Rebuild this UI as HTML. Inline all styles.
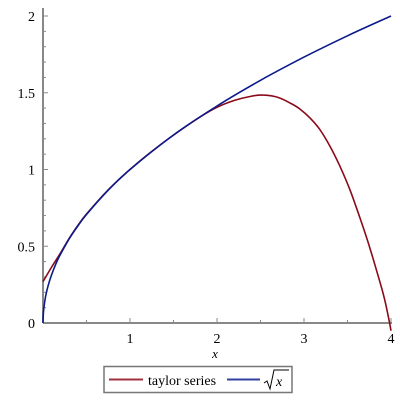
<!DOCTYPE html>
<html><head><meta charset="utf-8"><style>
body{margin:0;background:#fff}
svg text{font-family:"Liberation Serif",serif}
</style></head><body>
<svg id="c" width="400" height="400" xmlns="http://www.w3.org/2000/svg">
<g id="axes"></g>
<g id="series"></g>
<g>
<rect x="104" y="366.5" width="188" height="26" fill="#fff" stroke="#777" stroke-width="1.5"/>
<line x1="109" y1="379.5" x2="143" y2="379.5" stroke="#a03040" stroke-width="2"/>
<text x="148" y="385" font-size="14">taylor series</text>
<line x1="227" y1="379.5" x2="260" y2="379.5" stroke="#3040a0" stroke-width="2"/>
<path d="M264,383 L267,381 L270,389 L274,370 L289,370" fill="none" stroke="#000" stroke-width="1"/>
<text x="276" y="386" font-size="14" font-style="italic">x</text>
</g>
</svg>
<script>
const taylorX=[0,0.1,0.2,0.3,0.4,0.5,0.75,1,1.25,1.5,1.8,2,2.2,2.4,2.53,2.7,2.85,2.95,3.07,3.18,3.3,3.41,3.53,3.64,3.74,3.84,3.92,3.97,4];
const taylorY=[0.27,0.365,0.455,0.55,0.635,0.71,0.868,1,1.118,1.224,1.34,1.405,1.45,1.478,1.485,1.47,1.43,1.395,1.335,1.262,1.15,1.025,0.865,0.69,0.52,0.33,0.17,0.04,-0.05];
const sqrtX=[0,0.002,0.01,0.03,0.06,0.1,0.15,0.2,0.3,0.4,0.5,0.75,1,1.5,2,2.5,3,3.5,4];
const sqrtY=[0,0.045,0.1,0.173,0.245,0.316,0.387,0.447,0.548,0.632,0.707,0.866,1,1.225,1.414,1.581,1.732,1.871,2];
const xTicks=[1,2,3,4];
const yTicks=[0,0.5,1,1.5,2];
const yTickLabels=["0","0.5","1","1.5","2"];
const X=v=>43+v*87, Y=v=>323-v*153.5;
const NS="http://www.w3.org/2000/svg";
const ax=document.getElementById('axes'), se=document.getElementById('series');
function mk(t,a,p){const e=document.createElementNS(NS,t);for(const k in a)e.setAttribute(k,a[k]);p.appendChild(e);return e;}
let e=mk('line',{x1:43,y1:Y(0),x2:X(4)+1,y2:Y(0),stroke:'#888','stroke-width':2},ax);


e=mk('line',{x1:43,y1:Y(0),x2:43,y2:8,stroke:'#888','stroke-width':2},ax);


for(let i=1;i<=8;i++){const v=i*0.5;e=mk('line',{x1:X(v),y1:Y(0),x2:X(v),y2:Y(0)-(i%2?3:5),stroke:'#888'},ax);

}
for(let i=1;i<=20;i++){const v=i*0.1;e=mk('line',{x1:43,y1:Y(v),x2:43+(i%5?3:5),y2:Y(v),stroke:'#888'},ax);

}
xTicks.forEach(v=>{e=mk('text',{x:X(v),y:343,'font-size':14,'text-anchor':'middle'},ax);e.textContent=String(v);

});
yTicks.forEach((v,i)=>{e=mk('text',{x:35,y:Y(v)+5,'font-size':14,'text-anchor':'end'},ax);e.textContent=yTickLabels[i];

});
e=mk('text',{x:215,y:358,'font-size':13,'font-style':'italic','text-anchor':'middle'},ax);e.textContent='x';


function line(xs,ys,c,n){
  const P=xs.map((x,i)=>[X(x),Y(ys[i])]);
  let d='M'+P[0][0].toFixed(1)+','+P[0][1].toFixed(1);
  for(let i=0;i<P.length-1;i++){
    const p0=P[Math.max(0,i-1)],p1=P[i],p2=P[i+1],p3=P[Math.min(P.length-1,i+2)];
    const c1=[p1[0]+(p2[0]-p0[0])/6,p1[1]+(p2[1]-p0[1])/6];
    const c2=[p2[0]-(p3[0]-p1[0])/6,p2[1]-(p3[1]-p1[1])/6];
    d+='C'+c1[0].toFixed(1)+','+c1[1].toFixed(1)+' '+c2[0].toFixed(1)+','+c2[1].toFixed(1)+' '+p2[0].toFixed(1)+','+p2[1].toFixed(1);
  }
  const p=mk('path',{d:d,fill:'none',stroke:c,'stroke-width':1.6,'stroke-linejoin':'round'},se);
  
  
}
line(taylorX,taylorY,'#8b0a1a','taylor-series-line');
line(sqrtX,sqrtY,'#0a1a8b','sqrt-x-line');
</script>
</body></html>
